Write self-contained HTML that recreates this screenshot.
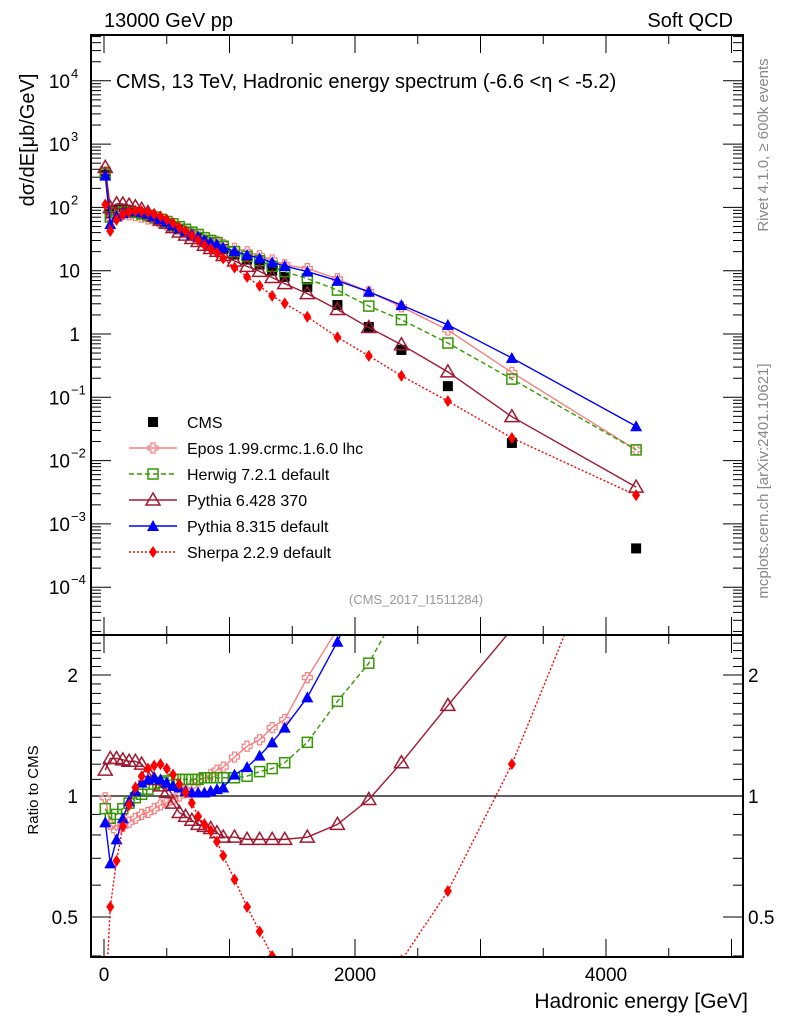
<!DOCTYPE html>
<html><head><meta charset="utf-8">
<style>
html,body{margin:0;padding:0;background:#fff;}
svg{display:block;font-family:"Liberation Sans",sans-serif;}
</style></head>
<body>
<svg id="chart" width="786" height="1024" viewBox="0 0 786 1024" xmlns="http://www.w3.org/2000/svg">
<defs>
<clipPath id="clipMain"><rect x="91" y="35" width="652" height="600"/></clipPath>
<clipPath id="clipRatio"><rect x="91" y="635" width="652" height="322"/></clipPath>
</defs>
<rect x="0" y="0" width="786" height="1024" fill="#fff"/>
<text x="104" y="27" font-size="20">13000 GeV pp</text>
<text x="733" y="27" font-size="20" text-anchor="end">Soft QCD</text>
<text x="116" y="88" font-size="20">CMS, 13 TeV, Hadronic energy spectrum (-6.6 &lt;η &lt; -5.2)</text>
<text transform="translate(34,140) rotate(-90)" font-size="20" text-anchor="middle">dσ/dE[μb/GeV]</text>
<text transform="translate(38,790) rotate(-90)" font-size="15" text-anchor="middle">Ratio to CMS</text>
<text x="748" y="1008" font-size="21" text-anchor="end">Hadronic energy [GeV]</text>
<text transform="translate(768,145) rotate(-90)" font-size="15" fill="#888" text-anchor="middle">Rivet 4.1.0, ≥ 600k events</text>
<text transform="translate(768,481) rotate(-90)" font-size="15" fill="#888" text-anchor="middle">mcplots.cern.ch [arXiv:2401.10621]</text>
<text x="416" y="604" font-size="13" fill="#999" text-anchor="middle">(CMS_2017_I1511284)</text>
<g id="axes"></g>
<g id="mainMarks" clip-path="url(#clipMain)"></g>
<g id="ratioMarks" clip-path="url(#clipRatio)"></g>
<g id="legend"></g>
<rect x="91" y="35" width="652" height="600" fill="none" stroke="#000" stroke-width="2"/>
<rect x="91" y="635" width="652" height="322" fill="none" stroke="#000" stroke-width="2"/>
</svg>
<script>
const energies=[10,50,100,150,200,250,300,350,400,450,500,550,600,650,700,750,800,850,900,950,1040,1140,1240,1340,1440,1620,1860,2110,2370,2740,3250,4240];
const cmsValues=[370,80,92,92,89,84,78,72,66,60,55,50,45,41,37,34,30,27,25,22,18,15,12.5,10,8,5.5,2.87,1.29,0.56,0.15,0.019,0.00041];
const eposRatio=[0.99,0.85,0.82,0.84,0.86,0.88,0.9,0.91,0.93,0.95,0.96,0.98,1.0,1.03,1.06,1.09,1.11,1.13,1.16,1.18,1.25,1.33,1.38,1.48,1.55,1.97,2.6,3.6,4.8,7.7,13,36];
const herwigRatio=[0.93,0.88,0.9,0.93,0.96,0.99,1.01,1.04,1.07,1.08,1.09,1.1,1.1,1.1,1.1,1.1,1.11,1.11,1.11,1.11,1.11,1.12,1.15,1.17,1.21,1.36,1.72,2.14,3.0,4.8,10.2,36];
const pythia6Ratio=[1.16,1.24,1.24,1.23,1.22,1.22,1.2,1.15,1.1,1.06,1.02,0.96,0.91,0.89,0.87,0.85,0.84,0.83,0.81,0.79,0.79,0.78,0.78,0.78,0.78,0.79,0.85,0.98,1.21,1.68,2.6,9.3];
const pythia8Ratio=[0.86,0.68,0.78,0.88,0.97,1.03,1.08,1.1,1.11,1.1,1.08,1.06,1.05,1.03,1.02,1.02,1.02,1.03,1.04,1.05,1.13,1.18,1.26,1.36,1.48,1.76,2.42,3.6,5.1,9.3,22,85];
const sherpaRatio=[0.3,0.53,0.69,0.84,0.95,1.05,1.12,1.17,1.19,1.2,1.17,1.13,1.07,1.02,0.96,0.89,0.85,0.82,0.77,0.71,0.62,0.53,0.46,0.40,0.38,0.34,0.31,0.35,0.39,0.58,1.2,6.9];
const mainTickExps=[-4,-3,-2,-1,0,1,2,3,4];
const mainTickLabels=["10","10","10","10","1","10","10","10","10"];
const mainTickSups=["−4","−3","−2","−1","","","2","3","4"];
const xTickValues=[0,2000,4000];
const ratioTickValues=[0.5,1,2];

const NS='http://www.w3.org/2000/svg';
function X(e){return 104+e*0.1255;}
function YM(v){return 334-63.3*Math.log10(v);}
function YR(r){return 796-121*Math.log2(r);}
function mk(tag,attrs,parent){const el=document.createElementNS(NS,tag);for(const k in attrs)el.setAttribute(k,attrs[k]);parent.appendChild(el);return el;}

const axes=document.getElementById('axes');
for(let d=-5;d<=4;d++){
  for(let m=1;m<=9;m++){
    const v=m*Math.pow(10,d);const y=YM(v);
    if(y<35||y>635)continue;
    const L=m===1?20:10;
    const t1=mk('line',{x1:91,x2:91+L,y1:y,y2:y,stroke:'#000','stroke-width':1},axes);
    
    
    const t2=mk('line',{x1:743-L,x2:743,y1:y,y2:y,stroke:'#000','stroke-width':1},axes);
    
    
  }
}
mainTickExps.forEach((e,i)=>{
  const y=YM(Math.pow(10,e));
  const t=mk('text',{x:mainTickSups[i]?70:80,y:y+7,'font-size':19,'text-anchor':'end'},axes);
  
  
  t.textContent=mainTickLabels[i];
  if(mainTickSups[i]){
    const s=mk('text',{x:71,y:y-3,'font-size':13,'text-anchor':'start'},axes);
    
    
    s.textContent=mainTickSups[i];
  }
});
for(let r=0.4;r<=2.5;r+=0.1){
  const y=YR(r);if(y<635||y>957)continue;
  const major=Math.abs(r-0.5)<1e-6||Math.abs(r-1)<1e-6||Math.abs(r-2)<1e-6;
  const L=major?20:10;
  const a=mk('line',{x1:91,x2:91+L,y1:y,y2:y,stroke:'#000'},axes);
  
  
  const b=mk('line',{x1:743-L,x2:743,y1:y,y2:y,stroke:'#000'},axes);
  
  
}
ratioTickValues.forEach(r=>{
  const y=YR(r);
  const a=mk('text',{x:78,y:y+7,'font-size':19,'text-anchor':'end'},axes);
  
  
  a.textContent=String(r);
  const b=mk('text',{x:748,y:y+7,'font-size':19},axes);
  
  
  b.textContent=String(r);
});
for(let e=0;e<=5000;e+=500){
  const x=X(e);const major=e%1000===0;const L=major?18:9;
  [[35,35+L],[635-L,635],[635,635+L],[957-L,957]].forEach(p=>{
    const t=mk('line',{x1:x,x2:x,y1:p[0],y2:p[1],stroke:'#000'},axes);
    
    
  });
}
xTickValues.forEach(e=>{
  const t=mk('text',{x:X(e),y:981,'font-size':19,'text-anchor':'middle'},axes);
  
  
  t.textContent=String(e);
});
const ref=mk('line',{x1:91,x2:743,y1:YR(1),y2:YR(1),stroke:'#000','stroke-width':1.2},document.getElementById('ratioMarks'));



function marker(g,type,x,y,color,s){
  s=s||5;let el;
  if(type==='square-filled')el=mk('rect',{x:x-5,y:y-5,width:10,height:10,fill:'#000'},g);
  else if(type==='square-open')el=mk('rect',{x:x-s,y:y-s,width:2*s,height:2*s,fill:'none',stroke:color,'stroke-width':1.5},g);
  else if(type==='tri-open')el=mk('path',{d:`M${x},${y-7}L${x+7},${y+5}L${x-7},${y+5}Z`,fill:'none',stroke:color,'stroke-width':1.5},g);
  else if(type==='tri-filled')el=mk('path',{d:`M${x},${y-6}L${x+6},${y+5}L${x-6},${y+5}Z`,fill:color},g);
  else if(type==='diamond')el=mk('path',{d:`M${x},${y-6}L${x+4},${y}L${x},${y+6}L${x-4},${y}Z`,fill:color},g);
  else if(type==='cross-open'){const a=2,b=5;el=mk('path',{d:`M${x-a},${y-b}H${x+a}V${y-a}H${x+b}V${y+a}H${x+a}V${y+b}H${x-a}V${y+a}H${x-b}V${y-a}H${x-a}Z`,fill:'none',stroke:color,'stroke-width':1.2},g);}
  return el;
}
const series=[
 {name:'epos',ratio:eposRatio,color:'#f88080',dash:'',type:'cross-open'},
 {name:'herwig',ratio:herwigRatio,color:'#339900',dash:'5,3',type:'square-open'},
 {name:'pythia6',ratio:pythia6Ratio,color:'#a01830',dash:'',type:'tri-open'},
 {name:'pythia8',ratio:pythia8Ratio,color:'#0000ff',dash:'',type:'tri-filled'},
 {name:'sherpa',ratio:sherpaRatio,color:'#ff0000',dash:'2,2',type:'diamond'}
];
const gm=document.getElementById('mainMarks');
const gr=document.getElementById('ratioMarks');
energies.forEach((e,i)=>{
  const c=marker(gm,'square-filled',X(e),YM(cmsValues[i]),'#000');
  
  
});
series.forEach(s=>{
  const vals=s.ratio.map((r,i)=>r*cmsValues[i]);
  const pm=mk('polyline',{points:energies.map((e,i)=>X(e)+','+YM(vals[i])).join(' '),fill:'none',stroke:s.color,'stroke-width':1.4,'stroke-dasharray':s.dash},gm);
  
  
  const pr=mk('polyline',{points:energies.map((e,i)=>X(e)+','+YR(s.ratio[i])).join(' '),fill:'none',stroke:s.color,'stroke-width':1.4,'stroke-dasharray':s.dash},gr);
  
  
  energies.forEach((e,i)=>{
    const a=marker(gm,s.type,X(e),YM(vals[i]),s.color);
    
    
    const b=marker(gr,s.type,X(e),YR(s.ratio[i]),s.color);
    
    
  });
});
const lg=document.getElementById('legend');
const legendRows=[
 {label:'CMS',type:'square-filled',color:'#000',dash:null},
 {label:'Epos 1.99.crmc.1.6.0 lhc',type:'cross-open',color:'#f88080',dash:''},
 {label:'Herwig 7.2.1 default',type:'square-open',color:'#339900',dash:'5,3'},
 {label:'Pythia 6.428 370',type:'tri-open',color:'#a01830',dash:''},
 {label:'Pythia 8.315 default',type:'tri-filled',color:'#0000ff',dash:''},
 {label:'Sherpa 2.2.9 default',type:'diamond',color:'#ff0000',dash:'2,2'}
];
legendRows.forEach((r,i)=>{
  const y=422+i*26;
  const g=mk('g',{},lg);
  
  
  if(r.dash!==null){mk('line',{x1:129,x2:177,y1:y,y2:y,stroke:r.color,'stroke-width':1.4,'stroke-dasharray':r.dash},g);}
  marker(g,r.type,153,y,r.color);
  const t=mk('text',{x:187,y:y+6,'font-size':16},g);
  t.textContent=r.label;
});
</script>
</body></html>
